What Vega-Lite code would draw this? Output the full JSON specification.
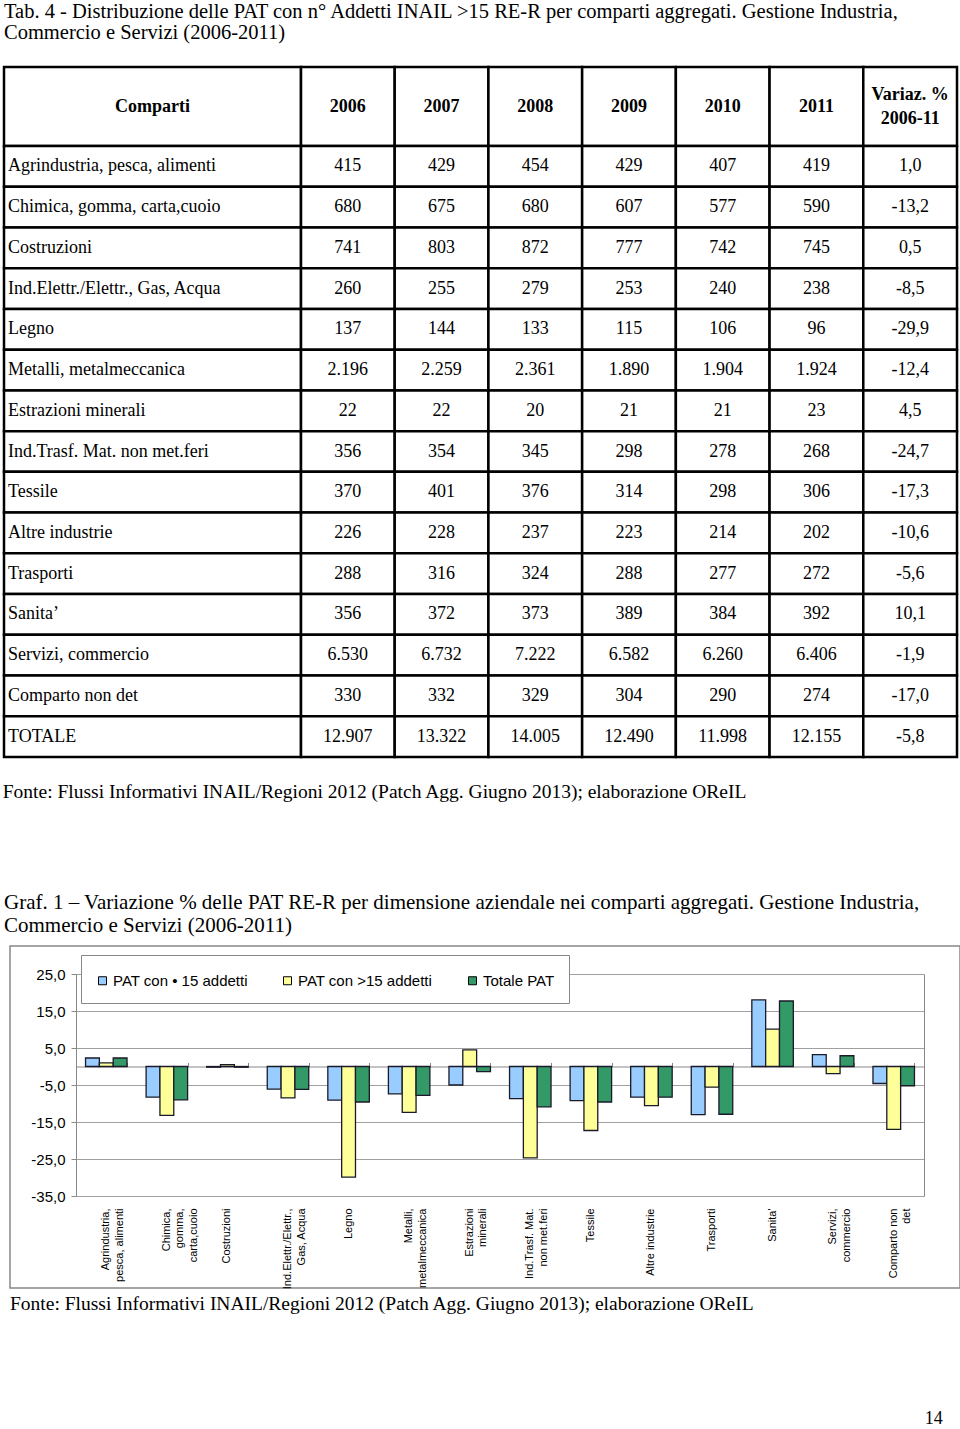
{
  "$schema": "https://vega.github.io/schema/vega-lite/v6.json",
  "background": "white",
  "padding": {"left": 2, "top": 2, "right": 0, "bottom": 0},
  "config": {
    "locale": {"number": {"decimal": ",", "thousands": ".", "grouping": [3], "currency": ["€", ""], "minus": "-"}},
    "view": {"stroke": null},
    "title": {"font": "Liberation Serif", "fontSize": 19.5, "fontWeight": "normal", "color": "#000", "anchor": "start"},
    "text": {"font": "Liberation Serif", "fontSize": 18, "fill": "#000"},
    "axis": {"labelFont": "Liberation Sans", "labelColor": "#000"}
  },
  "title": {
    "text": ["Tab. 4 - Distribuzione delle PAT con n° Addetti INAIL >15 RE-R per comparti aggregati. Gestione Industria,", "Commercio e Servizi (2006-2011)"],
    "anchor": "start", "frame": "group", "offset": 22, "lineHeight": 21, "fontSize": 20.5
  },
  "datasets": {
    "tab": [
      {"comparto": "Agrindustria, pesca, alimenti", "2006": 415, "2007": 429, "2008": 454, "2009": 429, "2010": 407, "2011": 419, "var": 1.0},
      {"comparto": "Chimica, gomma, carta,cuoio", "2006": 680, "2007": 675, "2008": 680, "2009": 607, "2010": 577, "2011": 590, "var": -13.2},
      {"comparto": "Costruzioni", "2006": 741, "2007": 803, "2008": 872, "2009": 777, "2010": 742, "2011": 745, "var": 0.5},
      {"comparto": "Ind.Elettr./Elettr., Gas, Acqua", "2006": 260, "2007": 255, "2008": 279, "2009": 253, "2010": 240, "2011": 238, "var": -8.5},
      {"comparto": "Legno", "2006": 137, "2007": 144, "2008": 133, "2009": 115, "2010": 106, "2011": 96, "var": -29.9},
      {"comparto": "Metalli, metalmeccanica", "2006": 2196, "2007": 2259, "2008": 2361, "2009": 1890, "2010": 1904, "2011": 1924, "var": -12.4},
      {"comparto": "Estrazioni minerali", "2006": 22, "2007": 22, "2008": 20, "2009": 21, "2010": 21, "2011": 23, "var": 4.5},
      {"comparto": "Ind.Trasf. Mat. non met.feri", "2006": 356, "2007": 354, "2008": 345, "2009": 298, "2010": 278, "2011": 268, "var": -24.7},
      {"comparto": "Tessile", "2006": 370, "2007": 401, "2008": 376, "2009": 314, "2010": 298, "2011": 306, "var": -17.3},
      {"comparto": "Altre industrie", "2006": 226, "2007": 228, "2008": 237, "2009": 223, "2010": 214, "2011": 202, "var": -10.6},
      {"comparto": "Trasporti", "2006": 288, "2007": 316, "2008": 324, "2009": 288, "2010": 277, "2011": 272, "var": -5.6},
      {"comparto": "Sanita’", "2006": 356, "2007": 372, "2008": 373, "2009": 389, "2010": 384, "2011": 392, "var": 10.1},
      {"comparto": "Servizi, commercio", "2006": 6530, "2007": 6732, "2008": 7222, "2009": 6582, "2010": 6260, "2011": 6406, "var": -1.9},
      {"comparto": "Comparto non det", "2006": 330, "2007": 332, "2008": 329, "2009": 304, "2010": 290, "2011": 274, "var": -17.0},
      {"comparto": "TOTALE", "2006": 12907, "2007": 13322, "2008": 14005, "2009": 12490, "2010": 11998, "2011": 12155, "var": -5.8}
    ],
    "hdr": [
      {"col": "2006", "label": "2006"},
      {"col": "2007", "label": "2007"},
      {"col": "2008", "label": "2008"},
      {"col": "2009", "label": "2009"},
      {"col": "2010", "label": "2010"},
      {"col": "2011", "label": "2011"},
      {"col": "var", "label": "Variaz. %\n2006-11"}
    ],
    "graf": [
      {"cat": "Agrindustria,\npesca, alimenti", "serie": "PAT con • 15 addetti", "v": 2.3},
      {"cat": "Agrindustria,\npesca, alimenti", "serie": "PAT con >15 addetti", "v": 1.0},
      {"cat": "Agrindustria,\npesca, alimenti", "serie": "Totale PAT", "v": 2.3},
      {"cat": "Chimica,\ngomma,\ncarta,cuoio", "serie": "PAT con • 15 addetti", "v": -8.3},
      {"cat": "Chimica,\ngomma,\ncarta,cuoio", "serie": "PAT con >15 addetti", "v": -13.2},
      {"cat": "Chimica,\ngomma,\ncarta,cuoio", "serie": "Totale PAT", "v": -9.0},
      {"cat": "Costruzioni", "serie": "PAT con • 15 addetti", "v": -0.2},
      {"cat": "Costruzioni", "serie": "PAT con >15 addetti", "v": 0.5},
      {"cat": "Costruzioni", "serie": "Totale PAT", "v": -0.2},
      {"cat": "Ind.Elettr./Elettr.,\nGas, Acqua", "serie": "PAT con • 15 addetti", "v": -6.1},
      {"cat": "Ind.Elettr./Elettr.,\nGas, Acqua", "serie": "PAT con >15 addetti", "v": -8.5},
      {"cat": "Ind.Elettr./Elettr.,\nGas, Acqua", "serie": "Totale PAT", "v": -6.2},
      {"cat": "Legno", "serie": "PAT con • 15 addetti", "v": -9.1},
      {"cat": "Legno", "serie": "PAT con >15 addetti", "v": -29.9},
      {"cat": "Legno", "serie": "Totale PAT", "v": -9.6},
      {"cat": "Metalli,\nmetalmeccanica", "serie": "PAT con • 15 addetti", "v": -7.4},
      {"cat": "Metalli,\nmetalmeccanica", "serie": "PAT con >15 addetti", "v": -12.4},
      {"cat": "Metalli,\nmetalmeccanica", "serie": "Totale PAT", "v": -7.8},
      {"cat": "Estrazioni\nminerali", "serie": "PAT con • 15 addetti", "v": -5.0},
      {"cat": "Estrazioni\nminerali", "serie": "PAT con >15 addetti", "v": 4.5},
      {"cat": "Estrazioni\nminerali", "serie": "Totale PAT", "v": -1.4},
      {"cat": "Ind.Trasf. Mat.\nnon met.feri", "serie": "PAT con • 15 addetti", "v": -8.7},
      {"cat": "Ind.Trasf. Mat.\nnon met.feri", "serie": "PAT con >15 addetti", "v": -24.7},
      {"cat": "Ind.Trasf. Mat.\nnon met.feri", "serie": "Totale PAT", "v": -10.9},
      {"cat": "Tessile", "serie": "PAT con • 15 addetti", "v": -9.2},
      {"cat": "Tessile", "serie": "PAT con >15 addetti", "v": -17.3},
      {"cat": "Tessile", "serie": "Totale PAT", "v": -9.6},
      {"cat": "Altre industrie", "serie": "PAT con • 15 addetti", "v": -8.3},
      {"cat": "Altre industrie", "serie": "PAT con >15 addetti", "v": -10.6},
      {"cat": "Altre industrie", "serie": "Totale PAT", "v": -8.3},
      {"cat": "Trasporti", "serie": "PAT con • 15 addetti", "v": -13.0},
      {"cat": "Trasporti", "serie": "PAT con >15 addetti", "v": -5.6},
      {"cat": "Trasporti", "serie": "Totale PAT", "v": -12.9},
      {"cat": "Sanita'", "serie": "PAT con • 15 addetti", "v": 18.0},
      {"cat": "Sanita'", "serie": "PAT con >15 addetti", "v": 10.1},
      {"cat": "Sanita'", "serie": "Totale PAT", "v": 17.7},
      {"cat": "Servizi,\ncommercio", "serie": "PAT con • 15 addetti", "v": 3.2},
      {"cat": "Servizi,\ncommercio", "serie": "PAT con >15 addetti", "v": -1.9},
      {"cat": "Servizi,\ncommercio", "serie": "Totale PAT", "v": 2.9},
      {"cat": "Comparto non\ndet", "serie": "PAT con • 15 addetti", "v": -4.6},
      {"cat": "Comparto non\ndet", "serie": "PAT con >15 addetti", "v": -17.0},
      {"cat": "Comparto non\ndet", "serie": "Totale PAT", "v": -5.2}
    ]
  },
  "spacing": 90,
  "resolve": {"scale": {"fill": "independent"}, "legend": {"fill": "independent"}},
  "vconcat": [
    {
      "title": {"text": "Fonte: Flussi Informativi INAIL/Regioni 2012 (Patch Agg. Giugno 2013); elaborazione OReIL", "orient": "bottom", "anchor": "start", "offset": 25},
      "columns": 2,
      "spacing": 0,
      "bounds": "flush",
      "concat": [
        {
          "width": 297, "height": 79,
          "view": {"stroke": "black", "strokeWidth": 2.5},
          "data": {"values": [{"h": "Comparti"}]},
          "mark": {"type": "text", "fontWeight": "bold"},
          "encoding": {"text": {"field": "h"}}
        },
        {
          "width": 656, "height": 79,
          "data": {"name": "hdr"},
          "encoding": {
            "x": {"field": "col", "type": "nominal", "axis": null, "scale": {"domain": ["2006", "2007", "2008", "2009", "2010", "2011", "var"], "paddingInner": 0, "paddingOuter": 0}}
          },
          "layer": [
            {"mark": {"type": "rect", "fill": "white", "stroke": "black", "strokeWidth": 2.5}},
            {"transform": [{"filter": "datum.col !== 'var'"}], "mark": {"type": "text", "fontWeight": "bold"}, "encoding": {"text": {"field": "label"}}},
            {"transform": [{"filter": "datum.col === 'var'"}], "mark": {"type": "text", "fontWeight": "bold", "lineBreak": "\n", "lineHeight": 24, "dy": -12}, "encoding": {"text": {"field": "label"}}}
          ]
        },
        {
          "width": 297, "height": 611,
          "data": {"name": "tab"},
          "encoding": {
            "y": {"field": "comparto", "type": "nominal", "sort": null, "axis": null, "scale": {"paddingInner": 0, "paddingOuter": 0}},
            "x": {"datum": "c", "type": "nominal", "axis": null, "scale": {"paddingInner": 0, "paddingOuter": 0}}
          },
          "layer": [
            {"mark": {"type": "rect", "fill": "white", "stroke": "black", "strokeWidth": 2.5}},
            {"mark": {"type": "text", "align": "left", "dx": 4}, "encoding": {"x": {"datum": "c", "type": "nominal", "bandPosition": 0}, "text": {"field": "comparto"}}}
          ]
        },
        {
          "width": 656, "height": 611,
          "data": {"name": "tab"},
          "encoding": {
            "y": {"field": "comparto", "type": "nominal", "sort": null, "axis": null, "scale": {"paddingInner": 0, "paddingOuter": 0}},
            "x": {"field": "col", "type": "nominal", "axis": null, "scale": {"domain": ["2006", "2007", "2008", "2009", "2010", "2011", "var"], "paddingInner": 0, "paddingOuter": 0}}
          },
          "layer": [
            {
              "transform": [{"fold": ["2006", "2007", "2008", "2009", "2010", "2011", "var"], "as": ["col", "val"]}],
              "mark": {"type": "rect", "fill": "white", "stroke": "black", "strokeWidth": 2.5}
            },
            {
              "transform": [{"fold": ["2006", "2007", "2008", "2009", "2010", "2011"], "as": ["col", "n"]}],
              "mark": {"type": "text"},
              "encoding": {"text": {"field": "n", "type": "quantitative", "format": ",d"}}
            },
            {
              "transform": [{"fold": ["var"], "as": ["col", "p"]}],
              "mark": {"type": "text"},
              "encoding": {"text": {"field": "p", "type": "quantitative", "format": ".1f"}}
            }
          ]
        }
      ]
    },
    {
      "title": {"text": "14", "orient": "bottom", "anchor": "end", "offset": 96, "dx": -18, "fontSize": 18},
      "resolve": {"scale": {"fill": "independent"}, "legend": {"fill": "independent"}},
      "vconcat": [
        {
          "title": {"text": ["Graf. 1 – Variazione % delle PAT RE-R per dimensione aziendale nei comparti aggregati. Gestione Industria,", "Commercio e Servizi (2006-2011)"], "anchor": "start", "offset": -40, "lineHeight": 23, "fontSize": 21},
          "spacing": 4,
          "resolve": {"scale": {"fill": "independent"}, "legend": {"fill": "independent"}},
          "hconcat": [
            {
              "width": 1, "height": 342,
              "data": {"values": [{}]},
              "mark": {"type": "text"},
              "encoding": {"text": {"value": ""}}
            },
            {
              "width": 950, "height": 342,
              "view": {"stroke": "#888", "strokeWidth": 1.5},
              "title": {"text": "Fonte: Flussi Informativi INAIL/Regioni 2012 (Patch Agg. Giugno 2013); elaborazione OReIL", "orient": "bottom", "anchor": "start", "offset": 6},
              "data": {"name": "graf"},
              "layer": [
                {
                  "mark": {"type": "bar", "stroke": "#1a1a2a", "strokeWidth": 1.3},
                  "encoding": {
                    "x": {
                      "field": "cat", "type": "nominal", "sort": null,
                      "scale": {"range": [66, 914], "paddingInner": 0.315, "paddingOuter": 0.1575},
                      "axis": {"orient": "top", "offset": -120.5, "labels": false, "title": null, "grid": false, "domainColor": "#888", "tickColor": "#888", "tickSize": 4, "tickBand": "extent"}
                    },
                    "xOffset": {"field": "serie", "type": "nominal", "scale": {"domain": ["PAT con • 15 addetti", "PAT con >15 addetti", "Totale PAT"], "paddingInner": 0, "paddingOuter": 0}},
                    "y": {
                      "field": "v", "type": "quantitative",
                      "scale": {"domain": [-35, 25], "range": [250, 28], "nice": false, "zero": false},
                      "axis": {"values": [-35, -25, -15, -5, 5, 15, 25], "format": ".1f", "offset": -66, "title": null, "grid": true, "gridColor": "#a0a0a0", "domainColor": "#888", "tickColor": "#888", "tickSize": 5, "labelPadding": 6, "labelFontSize": 15}
                    },
                    "fill": {
                      "field": "serie", "type": "nominal",
                      "scale": {"domain": ["PAT con • 15 addetti", "PAT con >15 addetti", "Totale PAT"], "range": ["#99CCFF", "#FFFF99", "#339966"]},
                      "legend": {
                        "orient": "none", "legendX": 71, "legendY": 9, "direction": "horizontal",
                        "title": "\u00a0", "titleFontSize": 1, "titlePadding": 3,
                        "fillColor": "white", "strokeColor": "#888", "padding": 14,
                        "symbolType": "square", "symbolSize": 64, "symbolStrokeColor": "#000", "symbolStrokeWidth": 1,
                        "labelFont": "Liberation Sans", "labelFontSize": 15, "labelColor": "#000", "labelOffset": 3, "columnPadding": 32
                      }
                    }
                  }
                },
                {
                  "mark": {"type": "bar", "opacity": 0},
                  "encoding": {
                    "x": {
                      "field": "cat", "type": "nominal", "sort": null,
                      "axis": {"orient": "bottom", "offset": -92, "title": null, "domain": false, "ticks": false, "tickSize": 0, "labelAngle": -90, "labelAlign": "right", "labelBaseline": "middle", "labelPadding": 12, "labelFontSize": 11, "labelLineHeight": 13.5, "labelExpr": "split(datum.label, '\\n')"}
                    },
                    "y": {
                      "field": "v", "type": "quantitative",
                      "axis": {"orient": "right", "offset": -36, "labels": false, "ticks": false, "grid": false, "title": null, "domainColor": "#888"}
                    }
                  }
                }
              ],
              "resolve": {"axis": {"x": "independent", "y": "independent"}}
            }
          ]
        }
      ]
    }
  ]
}
